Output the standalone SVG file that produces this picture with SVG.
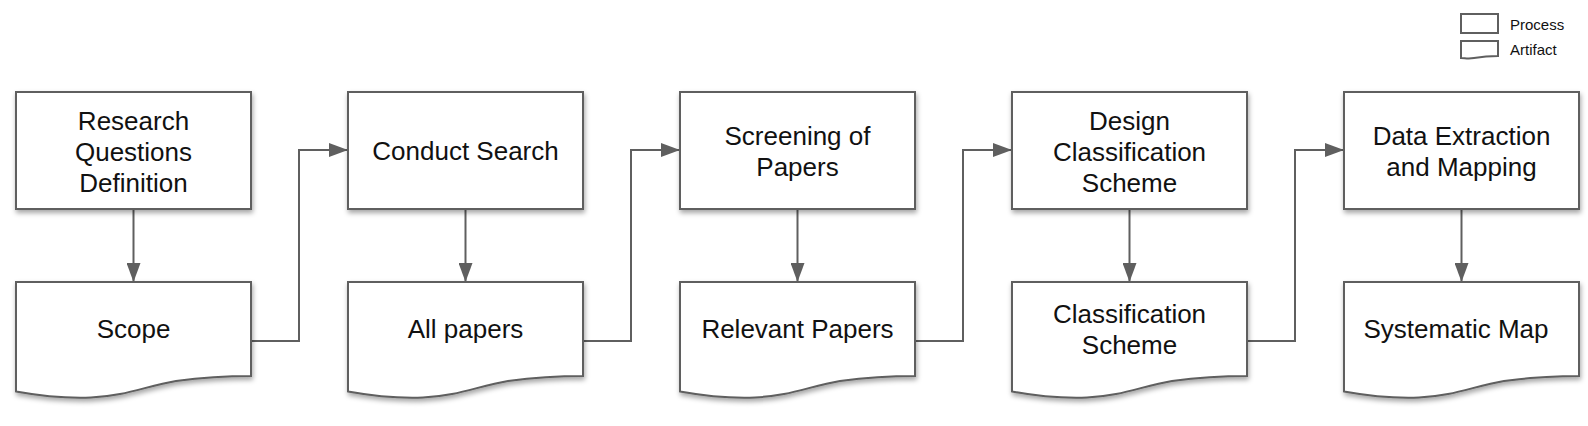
<svg xmlns="http://www.w3.org/2000/svg" width="1588" height="426" viewBox="0 0 1588 426">
<style>
.box{fill:#ffffff;stroke:#5f5f5f;stroke-width:2;filter:url(#sh)}
.lg{fill:#ffffff;stroke:#5f5f5f;stroke-width:2}
.t{font-family:"Liberation Sans",Arial,sans-serif;font-size:26px;fill:#111;text-anchor:middle}
.lt{font-family:"Liberation Sans",Arial,sans-serif;font-size:15px;fill:#111}
.c{fill:none;stroke:#5f5f5f;stroke-width:2}
</style>
<defs>
<filter id="sh" x="-10%" y="-10%" width="130%" height="140%">
<feDropShadow dx="1" dy="3" stdDeviation="2.5" flood-color="#000" flood-opacity="0.35"/>
</filter>
<marker id="ah" markerUnits="userSpaceOnUse" markerWidth="20" markerHeight="14" refX="19" refY="7" orient="auto">
<path d="M0,0 L19,7 L0,14 Z" fill="#5f5f5f"/>
</marker>
<path id="doc" d="M0,282 H235 V376 C210,376 190,377 160,381 C130,386 110,396 75,397.5 C50,398.5 25,396 0,391.5 Z"/>
</defs>
<rect width="1588" height="426" fill="#ffffff"/>

<g id="legend">
<rect class="lg" x="1461" y="14" width="37" height="19"/>
<path class="lg" d="M1461,41 H1498 V56 C1488,56 1480,57 1474,58 C1468,59 1465,58 1461,58 Z"/>
<text class="lt" x="1510" y="30">Process</text>
<text class="lt" x="1510" y="55">Artifact</text>
</g>

<g id="connectors">
<path class="c" d="M133.5,209 V282" marker-end="url(#ah)"/>
<path class="c" d="M465.5,209 V282" marker-end="url(#ah)"/>
<path class="c" d="M797.5,209 V282" marker-end="url(#ah)"/>
<path class="c" d="M1129.5,209 V282" marker-end="url(#ah)"/>
<path class="c" d="M1461.5,209 V282" marker-end="url(#ah)"/>
<path class="c" d="M251,341 H299 V150 H348" marker-end="url(#ah)"/>
<path class="c" d="M583,341 H631 V150 H680" marker-end="url(#ah)"/>
<path class="c" d="M915,341 H963 V150 H1012" marker-end="url(#ah)"/>
<path class="c" d="M1247,341 H1295 V150 H1344" marker-end="url(#ah)"/>
</g>

<g id="n1">
<rect class="box" x="16" y="92" width="235" height="117"/>
<text class="t" x="133.5" y="129.5">Research</text>
<text class="t" x="133.5" y="160.5">Questions</text>
<text class="t" x="133.5" y="191.5">Definition</text>
</g>
<g id="n2">
<rect class="box" x="348" y="92" width="235" height="117"/>
<text class="t" x="465.5" y="160">Conduct Search</text>
</g>
<g id="n3">
<rect class="box" x="680" y="92" width="235" height="117"/>
<text class="t" x="797.5" y="145">Screening of</text>
<text class="t" x="797.5" y="176">Papers</text>
</g>
<g id="n4">
<rect class="box" x="1012" y="92" width="235" height="117"/>
<text class="t" x="1129.5" y="129.5">Design</text>
<text class="t" x="1129.5" y="160.5">Classification</text>
<text class="t" x="1129.5" y="191.5">Scheme</text>
</g>
<g id="n5">
<rect class="box" x="1344" y="92" width="235" height="117"/>
<text class="t" x="1461.5" y="145">Data Extraction</text>
<text class="t" x="1461.5" y="176">and Mapping</text>
</g>

<g id="a1">
<use href="#doc" class="box" x="16"/>
<text class="t" x="133.5" y="338">Scope</text>
</g>
<g id="a2">
<use href="#doc" class="box" x="348"/>
<text class="t" x="465.5" y="338">All papers</text>
</g>
<g id="a3">
<use href="#doc" class="box" x="680"/>
<text class="t" x="797.5" y="338">Relevant Papers</text>
</g>
<g id="a4">
<use href="#doc" class="box" x="1012"/>
<text class="t" x="1129.5" y="323">Classification</text>
<text class="t" x="1129.5" y="354">Scheme</text>
</g>
<g id="a5">
<use href="#doc" class="box" x="1344"/>
<text class="t" x="1456" y="338">Systematic Map</text>
</g>
</svg>
